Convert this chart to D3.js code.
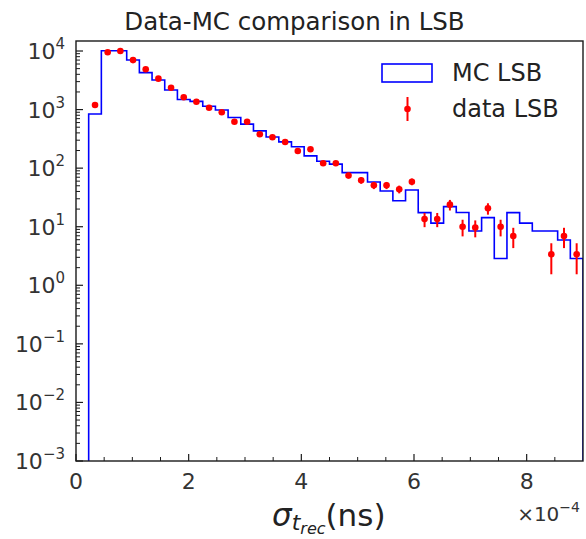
<!DOCTYPE html>
<html>
<head>
<meta charset="utf-8">
<script src="https://cdn.jsdelivr.net/npm/d3@7"></script>
<style>
  html, body { margin: 0; padding: 0; background: #fff; }
  svg { display: block; font-family: "DejaVu Sans", sans-serif; }
</style>
</head>
<body>
<svg id="chart" width="586" height="539"></svg>
<script>
// ---------- data (x in units of 1e-4 ns) ----------
const binWidth = 0.225;      // bin width, 1e-4 ns
const nBins = 40;
const binEdges = d3.range(nBins + 1).map(i => +(i * binWidth).toFixed(4));

const mcValues = [
  0, 840, 10100, 10100, 7030, 4270, 3200, 2160, 1490, 1380,
  1140, 985, 733, 564, 433, 340, 281, 232, 162, 131,
  117, 84, 84, 58, 40.7, 27.8, 42.4, 17.4, 11.5, 22.0,
  17.5, 8.45, 14.3, 2.87, 17.4, 11.5, 8.45, 8.45, 5.93, 2.87
];

const dataValues = [
  null, 1200, 9500, 10000, 7000, 4870, 3370, 2365, 1622, 1364,
  1077, 899, 621, 621, 379, 336, 280, 196, 210, 121,
  121, 75, 62, 51, 51, 43.7, 58.7, 13.5, 13.5, 23.8,
  10.0, 9.7, 20.6, 10.0, 6.95, null, null, 3.38, 6.95, 3.38
];

const xTicks = [0, 2, 4, 6, 8];
const xMinorTicks = d3.range(0, 9.01, 0.5);
const yTickExps = [-3, -2, -1, 0, 1, 2, 3, 4];

const titleText = "Data-MC comparison in LSB";
const legendLabels = ["MC LSB", "data LSB"];

// ---------- layout ----------
const L = 76, R = 583, T = 41, B = 461;
const svg = d3.select("#chart");

const x = d3.scaleLinear().domain([0, 9]).range([L, R]);
const y = d3.scaleLog().domain([1e-3, 14820]).range([B, T]);

const ink = "#1a1a1a";

// clip
svg.append("defs").append("clipPath").attr("id", "clip")
  .append("rect").attr("x", L).attr("y", T).attr("width", R - L).attr("height", B - T);

// ---------- histogram step ----------
let first = mcValues.findIndex(v => v > 0);
let pts = [[x(binEdges[first]), B]];
for (let k = first; k < nBins; k++) {
  const yy = mcValues[k] > 0 ? y(mcValues[k]) : B + 5;
  pts.push([x(binEdges[k]), yy]);
  pts.push([x(binEdges[k + 1]), yy]);
}
pts.push([x(binEdges[nBins]), B + 5]);

svg.append("path")
  .attr("clip-path", "url(#clip)")
  .attr("d", d3.line()(pts))
  .attr("fill", "none")
  .attr("stroke", "#0000ff")
  .attr("stroke-width", 1.6)
  .attr("stroke-linejoin", "miter");

// ---------- data points ----------
const dataPts = dataValues.map((v, k) => ({ k, v })).filter(d => d.v != null && d.v > 0);
const gData = svg.append("g").attr("clip-path", "url(#clip)");
gData.selectAll("line.err").data(dataPts).join("line")
  .attr("class", "err")
  .attr("x1", d => x((binEdges[d.k] + binEdges[d.k + 1]) / 2))
  .attr("x2", d => x((binEdges[d.k] + binEdges[d.k + 1]) / 2))
  .attr("y1", d => y(Math.max(d.v - Math.sqrt(d.v), 1e-4)))
  .attr("y2", d => y(d.v + Math.sqrt(d.v)))
  .attr("stroke", "#ff0000")
  .attr("stroke-width", 2);
gData.selectAll("circle").data(dataPts).join("circle")
  .attr("cx", d => x((binEdges[d.k] + binEdges[d.k + 1]) / 2))
  .attr("cy", d => y(d.v))
  .attr("r", 3.3)
  .attr("fill", "#ff0000");

// ---------- axes frame ----------
svg.append("rect").attr("x", L).attr("y", T).attr("width", R - L).attr("height", B - T)
  .attr("fill", "none").attr("stroke", ink).attr("stroke-width", 1.4);

// x ticks (inward)
const gx = svg.append("g");
gx.selectAll("line.maj").data(xTicks).join("line")
  .attr("x1", d => x(d)).attr("x2", d => x(d))
  .attr("y1", B).attr("y2", B - 7)
  .attr("stroke", ink).attr("stroke-width", 1.2);
gx.selectAll("line.min").data(xMinorTicks.filter(t => !xTicks.includes(t) && t < 9)).join("line")
  .attr("x1", d => x(d)).attr("x2", d => x(d))
  .attr("y1", B).attr("y2", B - 4)
  .attr("stroke", ink).attr("stroke-width", 1);
gx.selectAll("text").data(xTicks).join("text")
  .attr("x", d => x(d)).attr("y", 489)
  .attr("text-anchor", "middle")
  .attr("font-size", 22).attr("fill", "#333")
  .text(d => d);

// y ticks
const gy = svg.append("g");
const yMinor = [];
for (let e = -3; e <= 4; e++) for (let m = 2; m <= 9; m++) {
  const v = m * Math.pow(10, e);
  if (v <= 14820) yMinor.push(v);
}
gy.selectAll("line.min").data(yMinor).join("line")
  .attr("x1", L).attr("x2", L + 4)
  .attr("y1", d => y(d)).attr("y2", d => y(d))
  .attr("stroke", ink).attr("stroke-width", 1);
gy.selectAll("line.maj").data(yTickExps).join("line")
  .attr("x1", L).attr("x2", L + 7)
  .attr("y1", d => y(Math.pow(10, d))).attr("y2", d => y(Math.pow(10, d)))
  .attr("stroke", ink).attr("stroke-width", 1.2);
const yl = gy.selectAll("text").data(yTickExps).join("text")
  .attr("x", 65).attr("y", d => y(Math.pow(10, d)) + 8)
  .attr("text-anchor", "end")
  .attr("fill", "#333");
yl.append("tspan").attr("font-size", 22).text("10");
yl.append("tspan").attr("font-size", 15).attr("dy", -10)
  .text(d => (d < 0 ? "\u2212" : "") + Math.abs(d));

// offset text
const off = svg.append("text").attr("x", 580).attr("y", 521)
  .attr("text-anchor", "end").attr("fill", "#333");
off.append("tspan").attr("font-size", 20).text("\u00d710");
off.append("tspan").attr("font-size", 14).attr("dy", -9).text("\u22124");

// x label
const xl = svg.append("text").attr("x", 272).attr("y", 526).attr("fill", "#222");
xl.append("tspan").attr("font-size", 31).attr("font-style", "italic").text("\u03c3");
xl.append("tspan").attr("font-size", 22).attr("font-style", "italic").attr("dy", 4).text("t");
xl.append("tspan").attr("font-size", 16).attr("font-style", "italic").attr("dy", 4).text("rec");
xl.append("tspan").attr("font-size", 31).attr("dy", -8).text("(ns)");

// title
svg.append("text").attr("x", 294.5).attr("y", 30)
  .attr("text-anchor", "middle").attr("font-size", 24.5).attr("fill", "#222")
  .text(titleText);

// legend
const lg = svg.append("g");
lg.append("rect").attr("x", 382).attr("y", 64).attr("width", 50).attr("height", 18)
  .attr("fill", "none").attr("stroke", "#0000ff").attr("stroke-width", 1.6);
lg.append("text").attr("x", 452).attr("y", 81).attr("font-size", 24).attr("fill", "#222").text(legendLabels[0]);
lg.append("line").attr("x1", 407.5).attr("x2", 407.5).attr("y1", 97).attr("y2", 121)
  .attr("stroke", "#ff0000").attr("stroke-width", 2);
lg.append("circle").attr("cx", 407.5).attr("cy", 109).attr("r", 3.3).attr("fill", "#ff0000");
lg.append("text").attr("x", 452).attr("y", 117).attr("font-size", 24).attr("fill", "#222").text(legendLabels[1]);
</script>
</body>
</html>
